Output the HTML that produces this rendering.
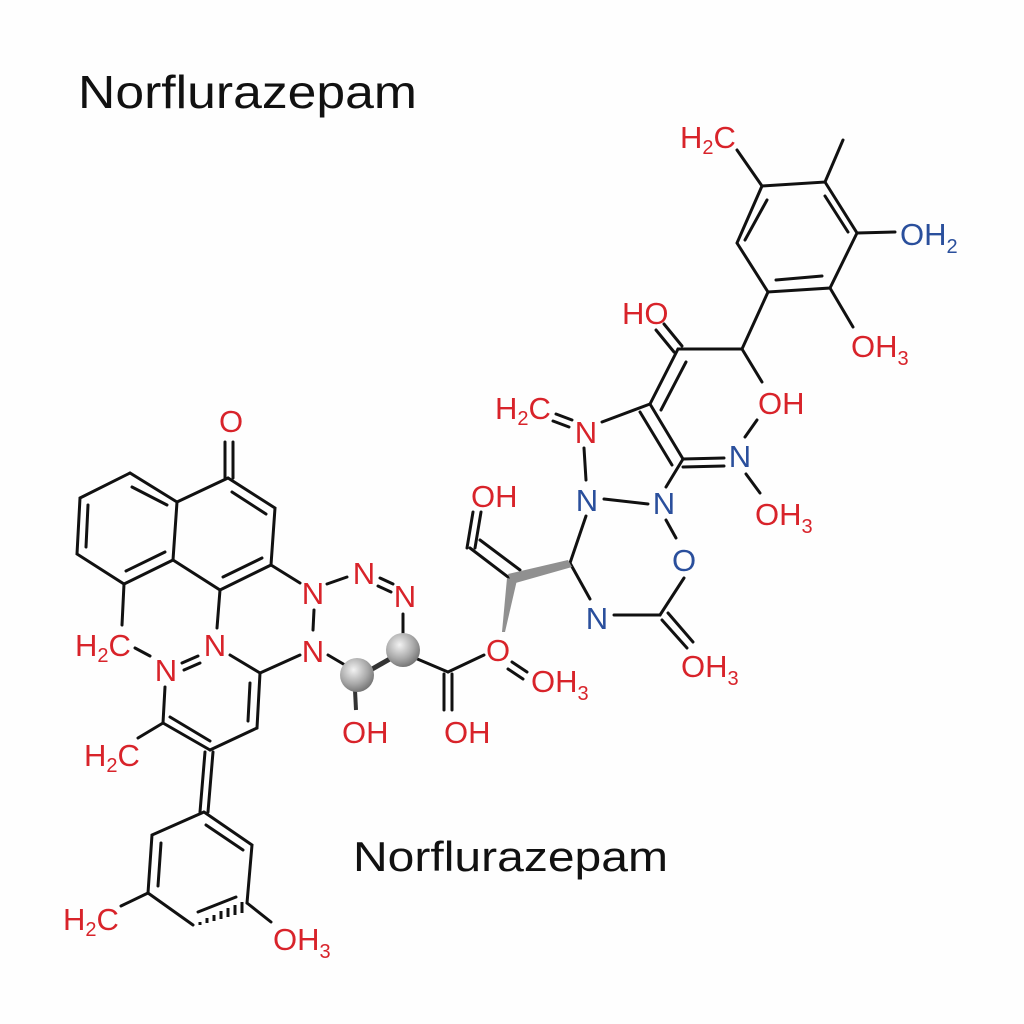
<!DOCTYPE html>
<html><head><meta charset="utf-8"><style>
html,body{margin:0;padding:0;background:#fff;}
svg{display:block;}
text{font-family:"Liberation Sans",sans-serif;}
.r{fill:#d8232a;}
.b{fill:#2a4f9c;}
</style></head><body>
<svg width="1024" height="1024" viewBox="0 0 1024 1024" xmlns="http://www.w3.org/2000/svg">
<defs>
<radialGradient id="ball" cx="0.4" cy="0.35" r="0.7">
<stop offset="0" stop-color="#f2f2f2"/><stop offset="0.6" stop-color="#a8a8a8"/><stop offset="1" stop-color="#6e6e6e"/>
</radialGradient>
</defs>
<rect width="1024" height="1024" fill="#fefefe"/>
<text x="78" y="108" font-size="46" fill="#111" textLength="339" lengthAdjust="spacingAndGlyphs">Norflurazepam</text>
<text x="353" y="871" font-size="42" fill="#111" textLength="315" lengthAdjust="spacingAndGlyphs">Norflurazepam</text>

<g stroke="#111" stroke-width="3" fill="none" stroke-linecap="round">
<path d="M130,473 L80,498 L77,554 L124,584 L173,560 L177,502 Z"/>
<line x1="88" y1="505" x2="86" y2="547"/>
<line x1="132" y1="487" x2="167" y2="505"/>
<line x1="126" y1="571" x2="165" y2="552"/>
<path d="M177,502 L228,478 L275,508 L271,565 L220,590 L173,560"/>
<line x1="232" y1="492" x2="266" y2="514"/>
<line x1="223" y1="577" x2="262" y2="558"/>
<line x1="225" y1="442" x2="225" y2="478"/><line x1="233" y1="442" x2="233" y2="478"/>
<line x1="124" y1="584" x2="122" y2="625"/>
<line x1="220" y1="590" x2="217" y2="628"/>
<line x1="271" y1="565" x2="300" y2="583"/>
<line x1="327" y1="584" x2="347" y2="577"/>
<line x1="380" y1="578" x2="393" y2="584"/><line x1="378" y1="586" x2="391" y2="592"/>
<line x1="314" y1="610" x2="313" y2="630"/>
<line x1="403" y1="614" x2="403" y2="636"/>
<line x1="328" y1="655" x2="345" y2="665"/>
<line x1="415" y1="658" x2="448" y2="672"/>
<line x1="448" y1="672" x2="484" y2="655"/>
<line x1="444" y1="674" x2="444" y2="710"/><line x1="452" y1="674" x2="452" y2="710"/>
<line x1="230" y1="655" x2="260" y2="673"/>
<line x1="260" y1="673" x2="300" y2="655"/>
<line x1="260" y1="673" x2="257" y2="728"/>
<line x1="250" y1="683" x2="248" y2="721"/>
<line x1="257" y1="728" x2="210" y2="750"/>
<line x1="210" y1="750" x2="163" y2="723"/>
<line x1="210" y1="741" x2="170" y2="717"/>
<line x1="163" y1="723" x2="165" y2="687"/>
<line x1="182" y1="663" x2="198" y2="656"/><line x1="184" y1="670" x2="200" y2="663"/>
<line x1="135" y1="648" x2="150" y2="656"/>
<line x1="163" y1="723" x2="138" y2="738"/>
<line x1="205" y1="752" x2="200" y2="812"/><line x1="213" y1="752" x2="208" y2="812"/>
<path d="M204,812 L152,835 L148,893 L193,925 M247,903 L252,845 L204,812"/>
<line x1="161" y1="843" x2="158" y2="886"/>
<line x1="206" y1="825" x2="243" y2="850"/>
<line x1="198" y1="912" x2="236" y2="897"/>
<line x1="148" y1="893" x2="121" y2="906"/>
<line x1="247" y1="903" x2="271" y2="922"/>
</g>
<g stroke="#111" stroke-width="3">
<line x1="200" y1="922" x2="200" y2="925"/><line x1="207" y1="918" x2="207" y2="923"/>
<line x1="214" y1="915" x2="214" y2="921"/><line x1="221" y1="911" x2="221" y2="919"/>
<line x1="228" y1="908" x2="228" y2="917"/><line x1="235" y1="905" x2="235" y2="915"/>
<line x1="242" y1="902" x2="242" y2="913"/>
</g>
<line x1="367" y1="672" x2="395" y2="656" stroke="#333" stroke-width="5"/>
<line x1="355" y1="690" x2="356" y2="710" stroke="#333" stroke-width="4"/>
<circle cx="357" cy="675" r="17" fill="url(#ball)"/>
<circle cx="403" cy="650" r="17" fill="url(#ball)"/>

<g stroke="#111" stroke-width="3" fill="none" stroke-linecap="round">
<path d="M762,186 L825,182 L857,233 L830,288 L768,292 L737,243 Z"/>
<line x1="767" y1="200" x2="745" y2="240"/>
<line x1="825" y1="196" x2="848" y2="232"/>
<line x1="776" y1="280" x2="822" y2="276"/>
<line x1="737" y1="150" x2="762" y2="186"/>
<line x1="825" y1="182" x2="843" y2="140"/>
<line x1="857" y1="233" x2="895" y2="232"/>
<line x1="830" y1="288" x2="853" y2="327"/>
<line x1="768" y1="292" x2="742" y2="349"/>
<line x1="742" y1="349" x2="678" y2="349"/>
<line x1="742" y1="349" x2="762" y2="382"/>
<line x1="674" y1="352" x2="656" y2="330"/><line x1="682" y1="346" x2="664" y2="324"/>
<line x1="678" y1="349" x2="650" y2="404"/>
<line x1="686" y1="362" x2="661" y2="410"/>
<line x1="650" y1="404" x2="602" y2="422"/>
<line x1="650" y1="404" x2="683" y2="459"/>
<line x1="640" y1="412" x2="672" y2="465"/>
<line x1="683" y1="459" x2="724" y2="458"/><line x1="683" y1="467" x2="724" y2="466"/>
<line x1="745" y1="437" x2="757" y2="420"/>
<line x1="746" y1="474" x2="760" y2="493"/>
<line x1="683" y1="459" x2="666" y2="487"/>
<line x1="556" y1="414" x2="572" y2="420"/><line x1="553" y1="421" x2="569" y2="427"/>
<line x1="584" y1="448" x2="586" y2="480"/>
<line x1="604" y1="499" x2="648" y2="504"/>
<line x1="666" y1="520" x2="676" y2="538"/>
<line x1="684" y1="578" x2="660" y2="615"/>
<line x1="660" y1="615" x2="614" y2="615"/>
<line x1="570" y1="563" x2="586" y2="516"/>
<line x1="662" y1="620" x2="687" y2="648"/><line x1="668" y1="613" x2="693" y2="642"/>
<line x1="570" y1="563" x2="590" y2="599"/>
<line x1="512" y1="580" x2="470" y2="548"/>
<line x1="520" y1="570" x2="480" y2="540"/>
<line x1="467" y1="548" x2="473" y2="512"/><line x1="475" y1="548" x2="481" y2="512"/>
<line x1="512" y1="662" x2="527" y2="672"/><line x1="508" y1="669" x2="523" y2="679"/>
</g>
<polygon points="568,560 572,567 512,584 508,574" fill="#909090"/>
<polygon points="507,578 517,580 505,632 502,632" fill="#909090"/>

<g font-size="31">
<text x="231" y="432" class="r" text-anchor="middle">O</text>
<text x="313" y="604" class="r" text-anchor="middle">N</text>
<text x="364" y="584" class="r" text-anchor="middle">N</text>
<text x="405" y="607" class="r" text-anchor="middle">N</text>
<text x="313" y="662" class="r" text-anchor="middle">N</text>
<text x="215" y="656" class="r" text-anchor="middle">N</text>
<text x="166" y="681" class="r" text-anchor="middle">N</text>
<text x="75" y="656" class="r">H<tspan font-size="20" dy="6">2</tspan><tspan dy="-6">C</tspan></text>
<text x="84" y="766" class="r">H<tspan font-size="20" dy="6">2</tspan><tspan dy="-6">C</tspan></text>
<text x="63" y="930" class="r">H<tspan font-size="20" dy="6">2</tspan><tspan dy="-6">C</tspan></text>
<text x="273" y="950" class="r">OH<tspan font-size="20" dy="8">3</tspan></text>
<text x="342" y="743" class="r">OH</text>
<text x="444" y="743" class="r">OH</text>
<text x="498" y="661" class="r" text-anchor="middle">O</text>
<text x="531" y="692" class="r">OH<tspan font-size="20" dy="8">3</tspan></text>
<text x="471" y="507" class="r">OH</text>
<text x="680" y="148" class="r">H<tspan font-size="20" dy="6">2</tspan><tspan dy="-6">C</tspan></text>
<text x="900" y="245" class="b">OH<tspan font-size="20" dy="8">2</tspan></text>
<text x="851" y="357" class="r">OH<tspan font-size="20" dy="8">3</tspan></text>
<text x="622" y="324" class="r">HO</text>
<text x="758" y="414" class="r">OH</text>
<text x="495" y="419" class="r">H<tspan font-size="20" dy="6">2</tspan><tspan dy="-6">C</tspan></text>
<text x="586" y="443" class="r" text-anchor="middle">N</text>
<text x="740" y="467" class="b" text-anchor="middle">N</text>
<text x="755" y="525" class="r">OH<tspan font-size="20" dy="8">3</tspan></text>
<text x="587" y="511" class="b" text-anchor="middle">N</text>
<text x="664" y="514" class="b" text-anchor="middle">N</text>
<text x="684" y="571" class="b" text-anchor="middle">O</text>
<text x="597" y="629" class="b" text-anchor="middle">N</text>
<text x="681" y="677" class="r">OH<tspan font-size="20" dy="8">3</tspan></text>
</g>
</svg>
</body></html>
